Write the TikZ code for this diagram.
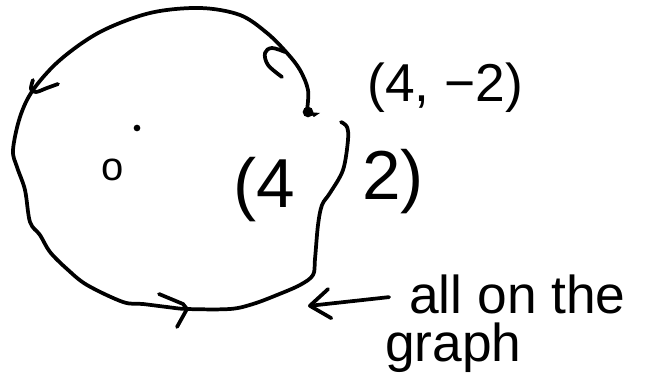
\documentclass[tikz,border=0pt]{standalone}
\usepackage{fontspec}
\setmainfont{Liberation Sans}
\usetikzlibrary{arrows.meta}

\begin{document}
\begin{tikzpicture}[
  x=0.75pt,
  y=-0.75pt,
  pen/.style={draw=black,line width=2.8pt,line cap=round,line join=round},
  point label/.style={font=\fontsize{40}{48}\selectfont,inner sep=0pt,anchor=base west},
  big label/.style={font=\fontsize{52}{60}\selectfont,inner sep=0pt,anchor=base west},
  origin label/.style={font=\fontsize{30}{36}\selectfont,inner sep=0pt},
  note node/.style={font=\fontsize{40}{48}\selectfont,inner sep=0pt,anchor=base west},
  pointer/.style={pen,-{Straight Barb[length=15pt,width=22pt,round]},shorten <=15pt},
]
\useasboundingbox (0,0) rectangle (654,384);
% the loop, drawn from the dot at the top round to the right side
\draw[pen] plot[smooth,tension=0.55] coordinates {
  (307,110) (308,90) (300,70) (287,53) (267,33) (240,15) (200,8) (150,13)
  (100,32) (60,60) (33,90) (20,117) (13,150) (17,167) (25,190) (30,222)
  (40,235) (50,252) (67,269) (87,285) (123,302) (143,304) (167,307) (187,309)
  (230,309) (253,304) (277,295) (300,285) (313,275) (315,259) (318,225)
  (322,205) (330,193) (343,170) (348,140) (347,127) (341,122)};
% direction marks on the loop
\draw[pen] plot[smooth,tension=0.6] coordinates {(282,77) (268,65) (265,53) (272,48) (285,52)};
\draw[pen] plot[smooth,tension=0.6] coordinates {(33,80) (31,89) (36,92) (47,88) (58,84)};
\draw[pen] (159,294) -- (183,304) -- (187,309) -- (177,327);
% points
\coordinate (P) at (308,112);
\coordinate (C) at (137,128);
\fill (P) circle[radius=4pt];
\fill (P) -- ++(12,1) -- ++(-6,4) -- cycle;
\fill (C) circle[radius=2.5pt];
% labels
\node[origin label] (O) at (113,170) {o};
\node[point label] (Pm) at (367,102) {(4, −2)};
\node[big label] (Pl) at (233,208) {(4};
\node[big label] (Pr) at (362,200) {2)};
\node[note node] (note) at (409,314) {all on the};
\node[note node] (graph) at (385,362) {graph};
\coordinate (tip) at (308,306);
\draw[pointer] (note.west) -- (tip);
\end{tikzpicture}
\end{document}
